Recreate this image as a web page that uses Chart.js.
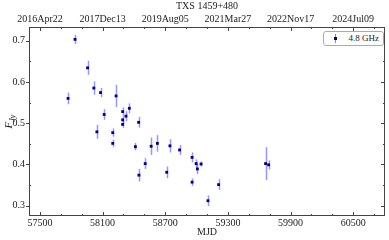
<!DOCTYPE html>
<html>
<head>
<meta charset="utf-8">
<script src="https://cdn.jsdelivr.net/npm/chart.js@4/dist/chart.umd.min.js"></script>
<style>
    html, body { margin: 0; padding: 0; background: #fff; }
    #wrap { position: relative; width: 389px; height: 240px; }
    #legend {
        position: absolute; left: 323px; top: 31px; width: 59px; height: 13px;
        border: 1px solid #aaa; border-radius: 3px; background: #fff;
        font: 9px "Liberation Serif", "DejaVu Serif", serif; color: #222;
    }
    #legend .bar { position: absolute; left: 11px; top: 2px; width: 1px; height: 9px; background: rgba(70,70,255,0.7); }
    #legend .dot { position: absolute; left: 10px; top: 5px; width: 3px; height: 3px; background: #00008b; }
    #legend .txt { position: absolute; right: 4px; top: 1px; }
</style>
</head>
<body>
<div id="wrap">
    <canvas id="chart" width="389" height="240"></canvas>
    <div id="legend"><span class="bar"></span><span class="dot"></span><span class="txt">4.8 GHz</span></div>
</div>
<script>
const MJD  = [57769, 57836, 57956, 58016, 58045, 58080, 58115, 58197, 58197, 58229,
              58292, 58292, 58292, 58324, 58356, 58414, 58445, 58448, 58508, 58565,
              58625, 58714, 58745, 58837, 58957, 58957, 58996, 59008, 59043, 59109,
              59211, 59661, 59690];
const FLUX = [0.560, 0.703, 0.634, 0.585, 0.479, 0.574, 0.521, 0.477, 0.451, 0.566,
              0.528, 0.508, 0.497, 0.517, 0.536, 0.443, 0.502, 0.374, 0.402, 0.444,
              0.451, 0.381, 0.445, 0.435, 0.417, 0.357, 0.402, 0.389, 0.401, 0.312,
              0.351, 0.402, 0.399];
const ERR  = [0.014, 0.011, 0.017, 0.016, 0.017, 0.011, 0.013, 0.010, 0.009, 0.027,
              0.010, 0.009, 0.008, 0.012, 0.012, 0.009, 0.013, 0.015, 0.013, 0.021,
              0.020, 0.014, 0.016, 0.012, 0.012, 0.009, 0.010, 0.012, 0.006, 0.013,
              0.013, 0.040, 0.011];

const X_TICKS    = [57500, 58100, 58700, 59300, 59900, 60500];
const X_MINOR    = [57500, 57700, 57900, 58100, 58300, 58500, 58700, 58900, 59100, 59300,
                    59500, 59700, 59900, 60100, 60300, 60500, 60700];
const TOP_LABELS = ['2016Apr22', '2017Dec13', '2019Aug05', '2021Mar27', '2022Nov17', '2024Jul09'];
const Y_TICKS    = [0.3, 0.4, 0.5, 0.6, 0.7];
const Y_MINOR    = [0.3, 0.35, 0.4, 0.45, 0.5, 0.55, 0.6, 0.65, 0.7];

const FONT = { family: '"Liberation Serif", "DejaVu Serif", serif', size: 10 };
const INK = '#222';
const NO_GRID = { display: false, drawTicks: false };

const setTicks = vals => scale => { scale.ticks = vals.map(v => ({ value: v })); };

const frame = {
    id: 'frame',
    beforeDatasetsDraw(chart) {
        const { ctx, scales: { x, y } } = chart;
        ctx.save();
        ctx.strokeStyle = 'rgba(80,80,255,0.6)';
        ctx.lineWidth = 1.5;
        MJD.forEach((m, i) => {
            const px = Math.round(x.getPixelForValue(m)) + 0.5;
            ctx.beginPath();
            ctx.moveTo(px, y.getPixelForValue(FLUX[i] - ERR[i]));
            ctx.lineTo(px, y.getPixelForValue(FLUX[i] + ERR[i]));
            ctx.stroke();
        });
        ctx.restore();
    },
    afterDraw(chart) {
        const { ctx, chartArea: a, scales: { x, y } } = chart;
        ctx.save();
        ctx.strokeStyle = '#444';
        ctx.lineWidth = 1;
        ctx.strokeRect(a.left + 0.5, a.top + 0.5, a.right - a.left - 1, a.bottom - a.top - 1);
        ctx.beginPath();
        X_MINOR.forEach(v => {
            const px = Math.round(x.getPixelForValue(v)) + 0.5;
            const len = X_TICKS.includes(v) ? 4 : 2;
            ctx.moveTo(px, a.bottom); ctx.lineTo(px, a.bottom - len);
            ctx.moveTo(px, a.top);    ctx.lineTo(px, a.top + len);
        });
        Y_MINOR.forEach(v => {
            const py = Math.round(y.getPixelForValue(v)) + 0.5;
            const major = Y_TICKS.some(t => Math.abs(t - v) < 1e-6);
            if (major) { ctx.moveTo(a.left - 3, py); ctx.lineTo(a.left, py); }
            else       { ctx.moveTo(a.left, py); ctx.lineTo(a.left + 2, py); }
            ctx.moveTo(a.right, py); ctx.lineTo(a.right - (major ? 4 : 2), py);
        });
        ctx.stroke();

        // y axis label F_Jy
        ctx.fillStyle = INK;
        ctx.translate(9, (a.top + a.bottom) / 2);
        ctx.rotate(-Math.PI / 2);
        ctx.textBaseline = 'alphabetic';
        ctx.font = 'italic 11px "Liberation Serif", serif';
        const wF = ctx.measureText('F').width;
        ctx.font = 'italic 8px "Liberation Serif", serif';
        const wJ = ctx.measureText('Jy').width;
        const x0 = -(wF + wJ) / 2;
        ctx.font = 'italic 11px "Liberation Serif", serif';
        ctx.fillText('F', x0, 3);
        ctx.font = 'italic 8px "Liberation Serif", serif';
        ctx.fillText('Jy', x0 + wF, 6);
        ctx.restore();
    },
};

new Chart(document.getElementById('chart'), {
    type: 'scatter',
    data: {
        datasets: [{
            data: MJD.map((m, i) => ({ x: m, y: FLUX[i] })),
            backgroundColor: '#00008b',
            borderColor: '#00008b',
            pointStyle: 'rect',
            pointRadius: 2,
            borderWidth: 0,
        }],
    },
    options: {
        responsive: false,
        animation: false,
        layout: { padding: { left: 0, right: 1, top: 0, bottom: 0 } },
        plugins: { legend: { display: false }, tooltip: { enabled: false } },
        scales: {
            x: {
                type: 'linear', position: 'bottom', min: 57395, max: 60805,
                afterBuildTicks: setTicks(X_TICKS),
                afterFit: s => { s.height = 24; },
                grid: NO_GRID, border: { display: false },
                ticks: { font: FONT, color: INK, padding: 1, maxRotation: 0, autoSkip: false,
                         callback: v => String(v) },
                title: { display: true, text: 'MJD', font: FONT, color: INK, padding: { top: 0, bottom: 2 } },
            },
            x2: {
                type: 'linear', position: 'top', min: 57395, max: 60805,
                afterBuildTicks: setTicks(X_TICKS),
                afterFit: s => { s.height = 27; },
                grid: NO_GRID, border: { display: false },
                ticks: { font: FONT, color: INK, padding: 2, maxRotation: 0, autoSkip: false,
                         callback: (v, i) => TOP_LABELS[i] },
                title: { display: true, text: 'TXS 1459+480', font: FONT, color: INK, padding: { top: 0, bottom: 0 } },
            },
            y: {
                min: 0.275, max: 0.733,
                afterBuildTicks: setTicks(Y_TICKS),
                afterFit: s => { s.width = 29; },
                grid: NO_GRID, border: { display: false },
                ticks: { font: FONT, color: INK, padding: 4, callback: v => v.toFixed(1) },
            },
        },
    },
    plugins: [frame],
});
</script>
</body>
</html>
